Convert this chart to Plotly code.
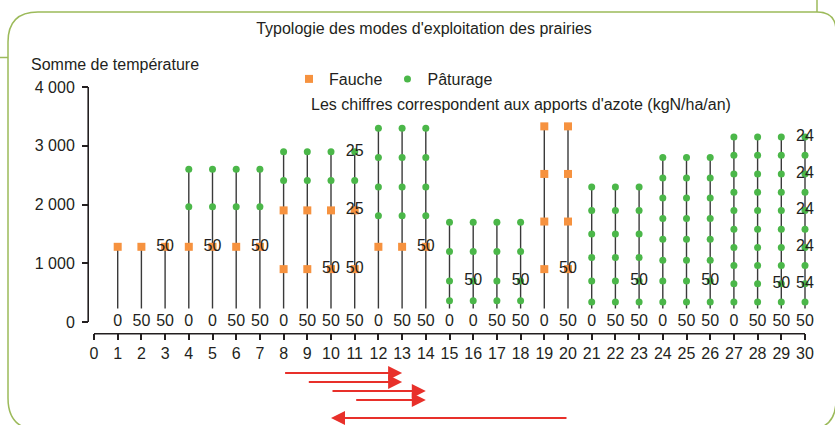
import plotly.graph_objects as go

# ---------------------------------------------------------------- data
# Stems 1..30, grouped by exploitation mode (same cutting / grazing schedule)
GROUPS = [[1, 2, 3], [4, 5, 6, 7], [8, 9, 10, 11], [12, 13, 14], [15, 16, 17, 18],
          [19, 20], [21, 22, 23], [24, 25, 26], [27, 28, 29, 30]]
# Temperature sums at which each cut (Fauche) / grazing (Pâturage) occurs, per group
FAUCHE = [[1280], [1280], [900, 1900], [1280], [], [900, 1710, 2520, 3330], [], [], []]
PATURAGE = [[], [1960, 2600], [2410, 2900], [1810, 2300, 2800, 3300],
            [360, 700, 1200, 1700], [],
            [340, 700, 1100, 1500, 1900, 2300],
            [340, 700, 1050, 1410, 1760, 2110, 2450, 2800],
            [340, 650, 960, 1270, 1580, 1900, 2210, 2520, 2840, 3150]]
STEM_BASE = 230

# Nitrogen input written at the foot of each stem (kgN/ha/an)
AZOTE_BASE = ["0", "50", "50", "0", "0", "50", "50", "0", "50", "50", "50", "0", "50", "50", "0",
              "0", "50", "50", "0", "50", "0", "50", "50", "0", "50", "50", "0", "50", "50", "50"]
# Nitrogen inputs written next to individual events
NOTE_X = [3, 5, 7, 10, 11, 11, 11, 14, 16, 18, 20, 23, 26, 29, 30, 30, 30, 30, 30]
NOTE_Y = [1280, 1280, 1280, 900, 900, 1900, 2900, 1280, 700, 700, 900, 700, 700, 650,
          650, 1270, 1900, 2520, 3150]
NOTE_TEXT = ["50", "50", "50", "50", "50", "25", "25", "50", "50", "50", "50", "50", "50", "50",
             "54", "24", "24", "24", "24"]

# Transitions between modes shown under the axis
ARROW_FROM = [8, 9, 10, 11, 20]
ARROW_TO = [13, 13, 14, 14, 10]

Y_TICKS = [0, 1000, 2000, 3000, 4000]
Y_TICKTEXT = ["0", "1 000", "2 000", "3 000", "4 000"]
X_TICKS = list(range(0, 31))

# ---------------------------------------------------------------- geometry
W, H = 835, 425
X0_PX, X30_PX = 94, 805          # pixel of x=0 and x=30
Y0_PX, Y4000_PX = 322, 87        # pixel of y=0 and y=4000
XAXIS_PX = 333                   # detached x axis line
YAXIS_PX = 89                    # detached y axis line
ARROW_ROWS_PX = [373, 382, 391, 400, 418]
LW = 1.6

UX = (X30_PX - X0_PX) / 30.0
UY = (Y0_PX - Y4000_PX) / 4000.0


def fx(px):
    return px / W


def fy(py):
    return 1 - py / H


def val_x(px):
    return (px - X0_PX) / UX


def val_y(py):
    return (Y0_PX - py) / UY


FONT = "Liberation Sans, Arial, sans-serif"
FS = 16
TXT = "#231f20"
GREEN = "#4bb749"
ORANGE = "#f6923f"
FRAME = "#9cba5a"
RED = "#e8302a"
AXIS = "#231f20"

# ---------------------------------------------------------------- traces
stem_x, stem_y = [], []
f_x, f_y, p_x, p_y = [], [], [], []
for stems, fa, pa in zip(GROUPS, FAUCHE, PATURAGE):
    top = max(fa + pa)
    for s in stems:
        stem_x += [s, s, None]
        stem_y += [STEM_BASE, top, None]
        f_x += [s] * len(fa)
        f_y += fa
        p_x += [s] * len(pa)
        p_y += pa

fig = go.Figure()
# the two detached axis lines: y from 0 to 4000, x from 0 to 30
y_line_x = val_x(YAXIS_PX - LW / 2)
x_line_y = val_y(XAXIS_PX + LW / 2)
fig.add_trace(go.Scatter(x=[y_line_x, y_line_x, None, X_TICKS[0], X_TICKS[-1]],
                         y=[Y_TICKS[0], Y_TICKS[-1], None, x_line_y, x_line_y],
                         mode="lines", line=dict(color=AXIS, width=LW),
                         showlegend=False, hoverinfo="skip"))
fig.add_trace(go.Scatter(x=stem_x, y=stem_y, mode="lines",
                         line=dict(color="#3a3a3a", width=1.4),
                         showlegend=False, hoverinfo="skip"))
fig.add_trace(go.Scatter(x=f_x, y=f_y, mode="markers", name="Fauche",
                         marker=dict(symbol="square", size=8, color=ORANGE),
                         cliponaxis=False))
fig.add_trace(go.Scatter(x=p_x, y=p_y, mode="markers", name="Pâturage",
                         marker=dict(symbol="circle", size=7, color=GREEN),
                         cliponaxis=False))
fig.add_trace(go.Scatter(x=list(range(1, 31)), y=[0] * 30, mode="text", text=AZOTE_BASE,
                         textposition="middle center",
                         textfont=dict(family=FONT, size=FS, color=TXT),
                         showlegend=False, hoverinfo="skip", cliponaxis=False))
fig.add_trace(go.Scatter(x=NOTE_X, y=NOTE_Y, mode="text", text=NOTE_TEXT,
                         textposition="middle center",
                         textfont=dict(family=FONT, size=FS, color=TXT),
                         showlegend=False, hoverinfo="skip", cliponaxis=False))
# carriers for the tick axes
fig.add_trace(go.Scatter(x=[None], y=[None], xaxis="x2", yaxis="y3",
                         showlegend=False, hoverinfo="skip"))
fig.add_trace(go.Scatter(x=[None], y=[None], xaxis="x3", yaxis="y2",
                         showlegend=False, hoverinfo="skip"))

# ---------------------------------------------------------------- arrows
annotations = []
for a, b, py in zip(ARROW_FROM, ARROW_TO, ARROW_ROWS_PX):
    yv = val_y(py)
    annotations.append(dict(x=b, y=yv, ax=a, ay=yv, xref="x", yref="y", axref="x", ayref="y",
                            text="", showarrow=True, arrowhead=2, arrowsize=1.4,
                            arrowwidth=2, arrowcolor=RED, standoff=0))

annotations += [
    dict(x=fx(29), y=fy(64), xref="paper", yref="paper", xanchor="left", yanchor="middle",
         text="Somme de température", showarrow=False,
         font=dict(family=FONT, size=FS, color=TXT)),
    dict(x=fx(309), y=fy(104), xref="paper", yref="paper", xanchor="left", yanchor="middle",
         text="Les chiffres correspondent aux apports d'azote (kgN/ha/an)", showarrow=False,
         font=dict(family=FONT, size=FS, color=TXT)),
]

# ---------------------------------------------------------------- frame
L, T, R, B = 8, 12, 836, 430
frame = " ".join([
    f"M {fx(L)},{fy(T + 30)}",
    f"Q {fx(L)},{fy(T)} {fx(L + 30)},{fy(T)}",
    f"L {fx(R - 19)},{fy(T)}",
    f"Q {fx(R)},{fy(T)} {fx(R)},{fy(T + 19)}",
    f"L {fx(R)},{fy(B - 30)}",
    f"Q {fx(R)},{fy(B)} {fx(R - 30)},{fy(B)}",
    f"L {fx(L + 32)},{fy(B)}",
    f"Q {fx(L)},{fy(B)} {fx(L)},{fy(B - 32)}",
    "Z",
])
shapes = [
    dict(type="path", path=frame, xref="paper", yref="paper",
         line=dict(color=FRAME, width=1.5), layer="below"),
    dict(type="line", x0=fx(0), x1=fx(L), y0=fy(57.5), y1=fy(57.5), xref="paper", yref="paper",
         line=dict(color=FRAME, width=1.5), layer="below"),
    dict(type="line", x0=fx(817), x1=fx(817), y0=fy(-2), y1=fy(T), xref="paper", yref="paper",
         line=dict(color=FRAME, width=1.5), layer="below"),
]

axis_style = dict(showline=False, ticks="outside", tickcolor=AXIS, tickwidth=LW, ticklen=6,
                  showgrid=False, zeroline=False,
                  tickfont=dict(family=FONT, size=FS, color=TXT), fixedrange=True)
hidden = dict(visible=False, fixedrange=True)
# anchor-only axes: present in the layout but draw nothing
blank = dict(visible=True, showline=False, showticklabels=False, ticks="", showgrid=False,
             zeroline=False, fixedrange=True)

fig.update_layout(
    width=W, height=H,
    margin=dict(l=0, r=0, t=0, b=0, pad=0, autoexpand=False),
    paper_bgcolor="white", plot_bgcolor="rgba(0,0,0,0)",
    title=dict(text="Typologie des modes d'exploitation des prairies",
               x=fx(424), y=fy(28), xanchor="center", yanchor="middle",
               font=dict(family=FONT, size=FS, color=TXT)),
    # data axes (full figure, hidden)
    xaxis=dict(domain=[0, 1], range=[-X0_PX / UX, 30 + (W - X30_PX) / UX], anchor="y", **hidden),
    yaxis=dict(domain=[0, 1], range=[-(H - Y0_PX) / UY, 4000 + Y4000_PX / UY], anchor="x",
               **hidden),
    # x ticks, sitting on the bottom edge of y3
    xaxis2=dict(domain=[fx(X0_PX), fx(X30_PX)], range=[0, 30], anchor="y3",
                tickvals=X_TICKS, **axis_style),
    yaxis3=dict(domain=[fy(XAXIS_PX), 1], range=[0, 1], anchor="x2", **blank),
    # y ticks, sitting on the left edge of x3
    yaxis2=dict(domain=[fy(Y0_PX), fy(Y4000_PX)], range=[0, 4000], anchor="x3",
                tickvals=Y_TICKS, ticktext=Y_TICKTEXT, ticklabelstandoff=4, **axis_style),
    xaxis3=dict(domain=[fx(YAXIS_PX), 1], range=[0, 1], anchor="y2", **blank),
    showlegend=True,
    legend=dict(orientation="h", x=fx(289), y=fy(79), xanchor="left", yanchor="middle",
                font=dict(family=FONT, size=FS, color=TXT), bgcolor="rgba(0,0,0,0)",
                itemwidth=30, borderwidth=0),
    annotations=annotations,
    shapes=shapes,
)

fig.write_html("out.html")
